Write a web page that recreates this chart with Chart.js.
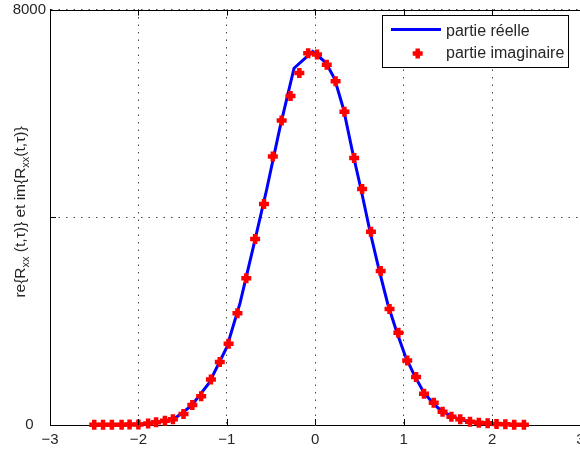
<!DOCTYPE html>
<html>
<head>
<meta charset="utf-8">
<script src="https://cdn.jsdelivr.net/npm/chart.js@4.4.0/dist/chart.umd.min.js"></script>
<style>
  html, body { margin:0; padding:0; background:#fff; overflow:hidden; }
  #wrap { width:600px; height:455px; }
</style>
</head>
<body>
<div id="wrap"><canvas id="c" width="600" height="455"></canvas></div>
<script>
// --- données ---
const xTicks = [-3, -2, -1, 0, 1, 2, 3];
const yTicks = [0, 4000, 8000];

// partie réelle (trait bleu)
const reelX = [-2.50,-2.20,-2.00,-1.80,-1.60,-1.40,-1.20,-1.00,-0.85,-0.70,-0.55,-0.40,-0.24,-0.03,
               0.12,0.22,0.32,0.42,0.52,0.62,0.72,0.82,0.92,1.02,1.12,1.22,1.32,1.42,1.55,1.70,1.90,2.10,2.36];
const reelY = [0,5,12,50,110,370,810,1500,2350,3430,4530,5720,6870,7190,
               6980,6660,6080,5270,4520,3720,3000,2330,1800,1320,960,650,440,280,160,80,38,15,5];

// partie imaginaire (croix rouges)
const imagX = [-2.50,-2.40,-2.30,-2.19,-2.10,-2.00,-1.89,-1.80,-1.70,-1.61,-1.49,-1.39,-1.29,-1.18,-1.08,
               -0.98,-0.88,-0.78,-0.68,-0.58,-0.48,-0.38,-0.28,-0.18,-0.08,
               0.02,0.13,0.23,0.33,0.44,0.53,0.63,0.74,0.84,0.94,1.04,1.14,1.23,1.34,1.44,1.54,1.64,
               1.75,1.85,1.95,2.05,2.15,2.25,2.36];
const imagY = [5,5,5,5,8,12,30,52,82,110,210,383,555,874,1212,
               1563,2150,2827,3579,4255,5168,5863,6335,6775,7158,
               7134,6935,6617,6029,5143,4542,3719,2967,2234,1774,1244,925,600,430,255,159,109,
               63,44,32,19,13,6,6];

const FONT = "'Liberation Sans', Arial, sans-serif";
const TXT = '#262626';

function pts(xs, ys){ return xs.map((x, i) => ({ x, y: ys[i] })); }

// bordure haute, petites graduations vers l'intérieur, légende, titre Y
const decor = {
  id: 'decor',
  afterDraw(chart){
    const { ctx, chartArea: a, scales: { x, y } } = chart;
    const al = v => Math.round(v) + 0.5;
    ctx.save();
    ctx.strokeStyle = '#000'; ctx.lineWidth = 1; ctx.setLineDash([]);
    ctx.beginPath();
    ctx.moveTo(a.left, al(a.top)); ctx.lineTo(a.right, al(a.top));
    xTicks.forEach(v => {
      const px = al(x.getPixelForValue(v));
      ctx.moveTo(px, a.bottom); ctx.lineTo(px, a.bottom - 6);
      ctx.moveTo(px, a.top); ctx.lineTo(px, a.top + 6);
    });
    yTicks.forEach(v => {
      const py = al(y.getPixelForValue(v));
      ctx.moveTo(a.left, py); ctx.lineTo(a.left + 6, py);
    });
    ctx.stroke();

    // légende
    const L = { x: 382.5, y: 15.5, w: 186, h: 52 };
    ctx.fillStyle = '#fff'; ctx.fillRect(L.x, L.y, L.w, L.h);
    ctx.strokeStyle = '#000'; ctx.strokeRect(L.x, L.y, L.w, L.h);
    const ds = chart.data.datasets;
    ctx.font = '16px ' + FONT; ctx.fillStyle = TXT; ctx.textBaseline = 'middle'; ctx.textAlign = 'left';
    // ligne bleue
    ctx.strokeStyle = ds[0].borderColor; ctx.lineWidth = 3;
    ctx.beginPath(); ctx.moveTo(391, 29.5); ctx.lineTo(441, 29.5); ctx.stroke();
    ctx.fillText(ds[0].label, 446, 32);
    // croix rouge
    ctx.strokeStyle = ds[1].pointBorderColor; ctx.lineWidth = 4.5;
    ctx.beginPath();
    ctx.moveTo(412.7, 53.5); ctx.lineTo(422.7, 53.5);
    ctx.moveTo(417.7, 48.5); ctx.lineTo(417.7, 58.5);
    ctx.stroke();
    ctx.fillText(ds[1].label, 446, 54);

    // titre de l'axe Y avec indices
    const parts = [['re{R', 0], ['xx', 1], [' (t,\u03c4)} et im{R', 0], ['xx', 1], ['(t,\u03c4)}', 0]];
    const fMain = '15.5px ' + FONT, fSub = '11px ' + FONT;
    let total = 0;
    parts.forEach(p => { ctx.font = p[1] ? fSub : fMain; total += ctx.measureText(p[0]).width; });
    ctx.translate(21, 212);
    ctx.rotate(-Math.PI / 2);
    let cx = -total / 2;
    ctx.fillStyle = TXT; ctx.textBaseline = 'middle';
    parts.forEach(p => {
      ctx.font = p[1] ? fSub : fMain;
      ctx.fillText(p[0], cx, p[1] ? 5 : 0);
      cx += ctx.measureText(p[0]).width;
    });
    ctx.restore();
  }
};

new Chart(document.getElementById('c'), {
  type: 'scatter',
  data: {
    datasets: [
      { label: 'partie r\u00e9elle', data: pts(reelX, reelY), showLine: true, borderColor: '#0000ff',
        borderWidth: 3, pointRadius: 0, tension: 0, order: 2 },
      { label: 'partie imaginaire', data: pts(imagX, imagY), showLine: false, pointStyle: 'cross',
        pointRadius: 5, pointBorderWidth: 4.5, pointBorderColor: '#ff0000', borderColor: '#ff0000',
        pointHoverRadius: 5, clip: false, order: 1 }
    ]
  },
  options: {
    responsive: false, animation: false, devicePixelRatio: 1,
    layout: { padding: { top: 7, left: 0, right: 19.5, bottom: 0 } },
    plugins: { legend: { display: false }, tooltip: { enabled: false } },
    scales: {
      x: {
        type: 'linear', min: -3, max: 3,
        afterBuildTicks: s => { s.ticks = xTicks.map(v => ({ value: v })); },
        afterFit: s => { s.height = 30; s.paddingLeft = 0; s.paddingRight = 0; },
        ticks: { padding: 6, color: TXT, font: { family: FONT, size: 15 },
                 callback: v => String(v).replace('-', '\u2212') },
        grid: { color: '#444', drawTicks: false },
        border: { color: '#000', width: 1, dash: [1.5, 6] }
      },
      y: {
        min: 0, max: 8000,
        afterBuildTicks: s => { s.ticks = yTicks.map(v => ({ value: v })); },
        afterFit: s => { s.width = 50; s.paddingTop = 0; s.paddingBottom = 0; },
        ticks: { padding: 4, crossAlign: 'center', color: TXT, font: { family: FONT, size: 15 },
                 callback: v => v === 4000 ? '' : String(v) },
        grid: { color: '#444', drawTicks: false },
        border: { color: '#000', width: 1, dash: [1.5, 6] }
      }
    }
  },
  plugins: [decor]
});
</script>
</body>
</html>
